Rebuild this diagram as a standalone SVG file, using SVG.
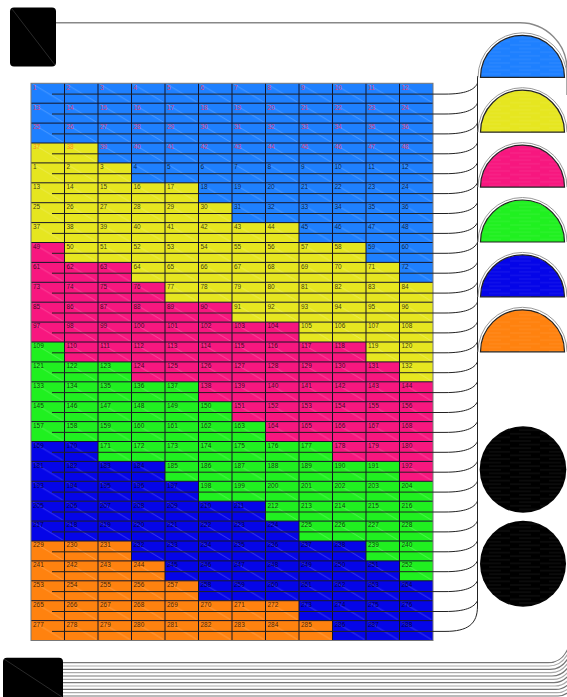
<svg xmlns="http://www.w3.org/2000/svg" width="567" height="697" viewBox="0 0 567 697">
<style>
.t{font-family:"Liberation Sans",Arial,sans-serif;font-size:6.5px;fill:#000;fill-opacity:.75}
.h{fill:#d8407f;fill-opacity:1}
.o{fill:#ff8a1a;fill-opacity:1}
.B{fill:#1e80ff}.Y{fill:#e6e620}.P{fill:#f7177f}.G{fill:#20f020}.D{fill:#0505e8}.O{fill:#ff820f}
.grid{stroke:#141428;stroke-width:1;fill:none}
.con path{stroke:#222;stroke-width:1;fill:none}
.ring{stroke:#999;stroke-width:1;fill:none}
.hd{stroke:#222;stroke-width:1.2}
.bl{fill:none;stroke-width:1.2}
</style>
<defs>
<pattern id="diag" patternUnits="userSpaceOnUse" x="31" y="83.3" width="33.5" height="19.9"><path d="M2,1 L32,19" stroke="#fff" stroke-opacity=".35" stroke-width=".6"/></pattern>
<pattern id="stripe" patternUnits="userSpaceOnUse" width="30" height="7.2"><path d="M0,1.8 H21 M9,5.4 H30" stroke="#fff" stroke-opacity=".14" stroke-width=".6"/></pattern>
<pattern id="gstripe" patternUnits="userSpaceOnUse" width="30" height="7.2"><path d="M0,1.8 H21 M9,5.4 H30" stroke="#999" stroke-opacity=".22" stroke-width=".6"/></pattern>
</defs>
<rect width="567" height="697" fill="#fff"/>

<g id="link-lines">
<path d="M56,22.7 H520 A47,47 0 0 1 567,69.7 V95" fill="none" stroke="#888" stroke-width="1.4"/>
<g class="bl">
<path d="M63,662.7 H548 C557,662.7 564,659 569,646" stroke="#777"/>
<path d="M63,666 H549 C558,666 565,662 570,649" stroke="#aaa"/>
<path d="M63,669.4 H550 C559,669.4 566,665 571,652" stroke="#777"/>
<path d="M63,672.7 H551 C560,672.7 567,668 572,655" stroke="#aaa"/>
<path d="M63,676 H552 C561,676 568,671 573,658" stroke="#777"/>
<path d="M63,679.4 H553 C562,679.4 569,674 574,661" stroke="#aaa"/>
<path d="M63,682.7 H554 C563,682.7 570,677 575,664" stroke="#777"/>
<path d="M63,686 H555 C564,686 571,680 576,667" stroke="#aaa"/>
<path d="M63,689.4 H556 C565,689.4 572,683 577,670" stroke="#777"/>
<path d="M63,692.7 H557 C566,692.7 573,686 578,673" stroke="#aaa"/>
<path d="M63,696 H558 C567,696 574,689 579,676" stroke="#777"/>
</g>
</g>

<g id="grid">
<g id="cells">
<rect class="B" x="31" y="83.3" width="402" height="60"/>
<rect class="Y" x="31" y="143" width="67" height="20"/><rect class="B" x="98" y="143" width="335" height="20"/>
<rect class="Y" x="31" y="162.9" width="100.5" height="20"/><rect class="B" x="131.5" y="162.9" width="301.5" height="20"/>
<rect class="Y" x="31" y="182.8" width="167.5" height="20"/><rect class="B" x="198.5" y="182.8" width="234.5" height="20"/>
<rect class="Y" x="31" y="202.7" width="201" height="20"/><rect class="B" x="232" y="202.7" width="201" height="20"/>
<rect class="Y" x="31" y="222.6" width="268" height="20"/><rect class="B" x="299" y="222.6" width="134" height="20"/>
<rect class="P" x="31" y="242.5" width="33.5" height="20"/><rect class="Y" x="64.5" y="242.5" width="301.5" height="20"/><rect class="B" x="366" y="242.5" width="67" height="20"/>
<rect class="P" x="31" y="262.4" width="100.5" height="20"/><rect class="Y" x="131.5" y="262.4" width="268" height="20"/><rect class="B" x="399.5" y="262.4" width="33.5" height="20"/>
<rect class="P" x="31" y="282.3" width="134" height="20"/><rect class="Y" x="165" y="282.3" width="268" height="20"/>
<rect class="P" x="31" y="302.2" width="201" height="20"/><rect class="Y" x="232" y="302.2" width="201" height="20"/>
<rect class="P" x="31" y="322.1" width="268" height="20"/><rect class="Y" x="299" y="322.1" width="134" height="20"/>
<rect class="G" x="31" y="342" width="33.5" height="20"/><rect class="P" x="64.5" y="342" width="301.5" height="20"/><rect class="Y" x="366" y="342" width="67" height="20"/>
<rect class="G" x="31" y="361.9" width="100.5" height="20"/><rect class="P" x="131.5" y="361.9" width="268" height="20"/><rect class="Y" x="399.5" y="361.9" width="33.5" height="20"/>
<rect class="G" x="31" y="381.8" width="167.5" height="20"/><rect class="P" x="198.5" y="381.8" width="234.5" height="20"/>
<rect class="G" x="31" y="401.7" width="201" height="20"/><rect class="P" x="232" y="401.7" width="201" height="20"/>
<rect class="G" x="31" y="421.6" width="234.5" height="20"/><rect class="P" x="265.5" y="421.6" width="167.5" height="20"/>
<rect class="D" x="31" y="441.5" width="67" height="20"/><rect class="G" x="98" y="441.5" width="234.5" height="20"/><rect class="P" x="332.5" y="441.5" width="100.5" height="20"/>
<rect class="D" x="31" y="461.4" width="134" height="20"/><rect class="G" x="165" y="461.4" width="234.5" height="20"/><rect class="P" x="399.5" y="461.4" width="33.5" height="20"/>
<rect class="D" x="31" y="481.3" width="167.5" height="20"/><rect class="G" x="198.5" y="481.3" width="234.5" height="20"/>
<rect class="D" x="31" y="501.2" width="234.5" height="20"/><rect class="G" x="265.5" y="501.2" width="167.5" height="20"/>
<rect class="D" x="31" y="521.1" width="268" height="20"/><rect class="G" x="299" y="521.1" width="134" height="20"/>
<rect class="O" x="31" y="541" width="100.5" height="20"/><rect class="D" x="131.5" y="541" width="234.5" height="20"/><rect class="G" x="366" y="541" width="67" height="20"/>
<rect class="O" x="31" y="560.9" width="134" height="20"/><rect class="D" x="165" y="560.9" width="234.5" height="20"/><rect class="G" x="399.5" y="560.9" width="33.5" height="20"/>
<rect class="O" x="31" y="580.8" width="167.5" height="20"/><rect class="D" x="198.5" y="580.8" width="234.5" height="20"/>
<rect class="O" x="31" y="600.7" width="268" height="20"/><rect class="D" x="299" y="600.7" width="134" height="20"/>
<rect class="O" x="31" y="620.6" width="301.5" height="19.9"/><rect class="D" x="332.5" y="620.6" width="100.5" height="19.9"/>
<rect x="31" y="83.3" width="402" height="557.2" fill="url(#diag)"/>
</g>
<path class="grid" d="M64.5,83.3V640.5M98,83.3V640.5M131.5,83.3V640.5M165,83.3V640.5M198.5,83.3V640.5M232,83.3V640.5M265.5,83.3V640.5M299,83.3V640.5M332.5,83.3V640.5M366,83.3V640.5M399.5,83.3V640.5
M31,103.2H433M31,123.1H433M31,143H433M31,162.9H433M31,182.8H433M31,202.7H433M31,222.6H433M31,242.5H433M31,262.4H433M31,282.3H433M31,302.2H433M31,322.1H433M31,342H433M31,361.9H433M31,381.8H433M31,401.7H433M31,421.6H433M31,441.5H433M31,461.4H433M31,481.3H433M31,501.2H433M31,521.1H433M31,541H433M31,560.9H433M31,580.8H433M31,600.7H433M31,620.6H433"/>
<rect x="31" y="83.3" width="402" height="557.2" fill="none" stroke="#777" stroke-width="1"/>
<g id="labels">
<text class="t h" y="89.6"><tspan x="33">1</tspan><tspan x="66.5">2</tspan><tspan x="100">3</tspan><tspan x="133.5">4</tspan><tspan x="167">5</tspan><tspan x="200.5">6</tspan><tspan x="234">7</tspan><tspan x="267.5">8</tspan><tspan x="301">9</tspan><tspan x="334.5">10</tspan><tspan x="368">11</tspan><tspan x="401.5">12</tspan></text>
<text class="t h" y="109.5"><tspan x="33">13</tspan><tspan x="66.5">14</tspan><tspan x="100">15</tspan><tspan x="133.5">16</tspan><tspan x="167">17</tspan><tspan x="200.5">18</tspan><tspan x="234">19</tspan><tspan x="267.5">20</tspan><tspan x="301">21</tspan><tspan x="334.5">22</tspan><tspan x="368">23</tspan><tspan x="401.5">24</tspan></text>
<text class="t h" y="129.4"><tspan x="33">25</tspan><tspan x="66.5">26</tspan><tspan x="100">27</tspan><tspan x="133.5">28</tspan><tspan x="167">29</tspan><tspan x="200.5">30</tspan><tspan x="234">31</tspan><tspan x="267.5">32</tspan><tspan x="301">33</tspan><tspan x="334.5">34</tspan><tspan x="368">35</tspan><tspan x="401.5">36</tspan></text>
<text class="t h" y="149.3"><tspan x="33" class="o">37</tspan><tspan x="66.5" class="o">38</tspan><tspan x="100">39</tspan><tspan x="133.5">40</tspan><tspan x="167">41</tspan><tspan x="200.5">42</tspan><tspan x="234">43</tspan><tspan x="267.5">44</tspan><tspan x="301">45</tspan><tspan x="334.5">46</tspan><tspan x="368">47</tspan><tspan x="401.5">48</tspan></text>
<text class="t" y="169.2"><tspan x="33">1</tspan><tspan x="66.5">2</tspan><tspan x="100">3</tspan><tspan x="133.5">4</tspan><tspan x="167">5</tspan><tspan x="200.5">6</tspan><tspan x="234">7</tspan><tspan x="267.5">8</tspan><tspan x="301">9</tspan><tspan x="334.5">10</tspan><tspan x="368">11</tspan><tspan x="401.5">12</tspan></text>
<text class="t" y="189.1"><tspan x="33">13</tspan><tspan x="66.5">14</tspan><tspan x="100">15</tspan><tspan x="133.5">16</tspan><tspan x="167">17</tspan><tspan x="200.5">18</tspan><tspan x="234">19</tspan><tspan x="267.5">20</tspan><tspan x="301">21</tspan><tspan x="334.5">22</tspan><tspan x="368">23</tspan><tspan x="401.5">24</tspan></text>
<text class="t" y="209"><tspan x="33">25</tspan><tspan x="66.5">26</tspan><tspan x="100">27</tspan><tspan x="133.5">28</tspan><tspan x="167">29</tspan><tspan x="200.5">30</tspan><tspan x="234">31</tspan><tspan x="267.5">32</tspan><tspan x="301">33</tspan><tspan x="334.5">34</tspan><tspan x="368">35</tspan><tspan x="401.5">36</tspan></text>
<text class="t" y="228.9"><tspan x="33">37</tspan><tspan x="66.5">38</tspan><tspan x="100">39</tspan><tspan x="133.5">40</tspan><tspan x="167">41</tspan><tspan x="200.5">42</tspan><tspan x="234">43</tspan><tspan x="267.5">44</tspan><tspan x="301">45</tspan><tspan x="334.5">46</tspan><tspan x="368">47</tspan><tspan x="401.5">48</tspan></text>
<text class="t" y="248.8"><tspan x="33">49</tspan><tspan x="66.5">50</tspan><tspan x="100">51</tspan><tspan x="133.5">52</tspan><tspan x="167">53</tspan><tspan x="200.5">54</tspan><tspan x="234">55</tspan><tspan x="267.5">56</tspan><tspan x="301">57</tspan><tspan x="334.5">58</tspan><tspan x="368">59</tspan><tspan x="401.5">60</tspan></text>
<text class="t" y="268.7"><tspan x="33">61</tspan><tspan x="66.5">62</tspan><tspan x="100">63</tspan><tspan x="133.5">64</tspan><tspan x="167">65</tspan><tspan x="200.5">66</tspan><tspan x="234">67</tspan><tspan x="267.5">68</tspan><tspan x="301">69</tspan><tspan x="334.5">70</tspan><tspan x="368">71</tspan><tspan x="401.5">72</tspan></text>
<text class="t" y="288.6"><tspan x="33">73</tspan><tspan x="66.5">74</tspan><tspan x="100">75</tspan><tspan x="133.5">76</tspan><tspan x="167">77</tspan><tspan x="200.5">78</tspan><tspan x="234">79</tspan><tspan x="267.5">80</tspan><tspan x="301">81</tspan><tspan x="334.5">82</tspan><tspan x="368">83</tspan><tspan x="401.5">84</tspan></text>
<text class="t" y="308.5"><tspan x="33">85</tspan><tspan x="66.5">86</tspan><tspan x="100">87</tspan><tspan x="133.5">88</tspan><tspan x="167">89</tspan><tspan x="200.5">90</tspan><tspan x="234">91</tspan><tspan x="267.5">92</tspan><tspan x="301">93</tspan><tspan x="334.5">94</tspan><tspan x="368">95</tspan><tspan x="401.5">96</tspan></text>
<text class="t" y="328.4"><tspan x="33">97</tspan><tspan x="66.5">98</tspan><tspan x="100">99</tspan><tspan x="133.5">100</tspan><tspan x="167">101</tspan><tspan x="200.5">102</tspan><tspan x="234">103</tspan><tspan x="267.5">104</tspan><tspan x="301">105</tspan><tspan x="334.5">106</tspan><tspan x="368">107</tspan><tspan x="401.5">108</tspan></text>
<text class="t" y="348.3"><tspan x="33">109</tspan><tspan x="66.5">110</tspan><tspan x="100">111</tspan><tspan x="133.5">112</tspan><tspan x="167">113</tspan><tspan x="200.5">114</tspan><tspan x="234">115</tspan><tspan x="267.5">116</tspan><tspan x="301">117</tspan><tspan x="334.5">118</tspan><tspan x="368">119</tspan><tspan x="401.5">120</tspan></text>
<text class="t" y="368.2"><tspan x="33">121</tspan><tspan x="66.5">122</tspan><tspan x="100">123</tspan><tspan x="133.5">124</tspan><tspan x="167">125</tspan><tspan x="200.5">126</tspan><tspan x="234">127</tspan><tspan x="267.5">128</tspan><tspan x="301">129</tspan><tspan x="334.5">130</tspan><tspan x="368">131</tspan><tspan x="401.5">132</tspan></text>
<text class="t" y="388.1"><tspan x="33">133</tspan><tspan x="66.5">134</tspan><tspan x="100">135</tspan><tspan x="133.5">136</tspan><tspan x="167">137</tspan><tspan x="200.5">138</tspan><tspan x="234">139</tspan><tspan x="267.5">140</tspan><tspan x="301">141</tspan><tspan x="334.5">142</tspan><tspan x="368">143</tspan><tspan x="401.5">144</tspan></text>
<text class="t" y="408"><tspan x="33">145</tspan><tspan x="66.5">146</tspan><tspan x="100">147</tspan><tspan x="133.5">148</tspan><tspan x="167">149</tspan><tspan x="200.5">150</tspan><tspan x="234">151</tspan><tspan x="267.5">152</tspan><tspan x="301">153</tspan><tspan x="334.5">154</tspan><tspan x="368">155</tspan><tspan x="401.5">156</tspan></text>
<text class="t" y="427.9"><tspan x="33">157</tspan><tspan x="66.5">158</tspan><tspan x="100">159</tspan><tspan x="133.5">160</tspan><tspan x="167">161</tspan><tspan x="200.5">162</tspan><tspan x="234">163</tspan><tspan x="267.5">164</tspan><tspan x="301">165</tspan><tspan x="334.5">166</tspan><tspan x="368">167</tspan><tspan x="401.5">168</tspan></text>
<text class="t" y="447.8"><tspan x="33">169</tspan><tspan x="66.5">170</tspan><tspan x="100">171</tspan><tspan x="133.5">172</tspan><tspan x="167">173</tspan><tspan x="200.5">174</tspan><tspan x="234">175</tspan><tspan x="267.5">176</tspan><tspan x="301">177</tspan><tspan x="334.5">178</tspan><tspan x="368">179</tspan><tspan x="401.5">180</tspan></text>
<text class="t" y="467.7"><tspan x="33">181</tspan><tspan x="66.5">182</tspan><tspan x="100">183</tspan><tspan x="133.5">184</tspan><tspan x="167">185</tspan><tspan x="200.5">186</tspan><tspan x="234">187</tspan><tspan x="267.5">188</tspan><tspan x="301">189</tspan><tspan x="334.5">190</tspan><tspan x="368">191</tspan><tspan x="401.5">192</tspan></text>
<text class="t" y="487.6"><tspan x="33">193</tspan><tspan x="66.5">194</tspan><tspan x="100">195</tspan><tspan x="133.5">196</tspan><tspan x="167">197</tspan><tspan x="200.5">198</tspan><tspan x="234">199</tspan><tspan x="267.5">200</tspan><tspan x="301">201</tspan><tspan x="334.5">202</tspan><tspan x="368">203</tspan><tspan x="401.5">204</tspan></text>
<text class="t" y="507.5"><tspan x="33">205</tspan><tspan x="66.5">206</tspan><tspan x="100">207</tspan><tspan x="133.5">208</tspan><tspan x="167">209</tspan><tspan x="200.5">210</tspan><tspan x="234">211</tspan><tspan x="267.5">212</tspan><tspan x="301">213</tspan><tspan x="334.5">214</tspan><tspan x="368">215</tspan><tspan x="401.5">216</tspan></text>
<text class="t" y="527.4"><tspan x="33">217</tspan><tspan x="66.5">218</tspan><tspan x="100">219</tspan><tspan x="133.5">220</tspan><tspan x="167">221</tspan><tspan x="200.5">222</tspan><tspan x="234">223</tspan><tspan x="267.5">224</tspan><tspan x="301">225</tspan><tspan x="334.5">226</tspan><tspan x="368">227</tspan><tspan x="401.5">228</tspan></text>
<text class="t" y="547.3"><tspan x="33">229</tspan><tspan x="66.5">230</tspan><tspan x="100">231</tspan><tspan x="133.5">232</tspan><tspan x="167">233</tspan><tspan x="200.5">234</tspan><tspan x="234">235</tspan><tspan x="267.5">236</tspan><tspan x="301">237</tspan><tspan x="334.5">238</tspan><tspan x="368">239</tspan><tspan x="401.5">240</tspan></text>
<text class="t" y="567.2"><tspan x="33">241</tspan><tspan x="66.5">242</tspan><tspan x="100">243</tspan><tspan x="133.5">244</tspan><tspan x="167">245</tspan><tspan x="200.5">246</tspan><tspan x="234">247</tspan><tspan x="267.5">248</tspan><tspan x="301">249</tspan><tspan x="334.5">250</tspan><tspan x="368">251</tspan><tspan x="401.5">252</tspan></text>
<text class="t" y="587.1"><tspan x="33">253</tspan><tspan x="66.5">254</tspan><tspan x="100">255</tspan><tspan x="133.5">256</tspan><tspan x="167">257</tspan><tspan x="200.5">258</tspan><tspan x="234">259</tspan><tspan x="267.5">260</tspan><tspan x="301">261</tspan><tspan x="334.5">262</tspan><tspan x="368">263</tspan><tspan x="401.5">264</tspan></text>
<text class="t" y="607"><tspan x="33">265</tspan><tspan x="66.5">266</tspan><tspan x="100">267</tspan><tspan x="133.5">268</tspan><tspan x="167">269</tspan><tspan x="200.5">270</tspan><tspan x="234">271</tspan><tspan x="267.5">272</tspan><tspan x="301">273</tspan><tspan x="334.5">274</tspan><tspan x="368">275</tspan><tspan x="401.5">276</tspan></text>
<text class="t" y="626.9"><tspan x="33">277</tspan><tspan x="66.5">278</tspan><tspan x="100">279</tspan><tspan x="133.5">280</tspan><tspan x="167">281</tspan><tspan x="200.5">282</tspan><tspan x="234">283</tspan><tspan x="267.5">284</tspan><tspan x="301">285</tspan><tspan x="334.5">286</tspan><tspan x="368">287</tspan><tspan x="401.5">288</tspan></text>
</g>
</g>

<g id="connectors" class="con">
<path d="M477.5,76 V606"/>
<path d="M52,94.1 H445 C465,94.1 474.5,90.1 477.5,83.1"/>
<path d="M52,114 H445 C465,114 474.5,110 477.5,103"/>
<path d="M52,133.9 H445 C465,133.9 474.5,129.9 477.5,122.9"/>
<path d="M52,153.8 H445 C465,153.8 474.5,149.8 477.5,142.8"/>
<path d="M52,173.7 H445 C465,173.7 474.5,169.7 477.5,162.7"/>
<path d="M52,193.6 H445 C465,193.6 474.5,189.6 477.5,182.6"/>
<path d="M52,213.5 H445 C465,213.5 474.5,209.5 477.5,202.5"/>
<path d="M52,233.4 H445 C465,233.4 474.5,229.4 477.5,222.4"/>
<path d="M52,253.3 H445 C465,253.3 474.5,249.3 477.5,242.3"/>
<path d="M52,273.2 H445 C465,273.2 474.5,269.2 477.5,262.2"/>
<path d="M52,293.1 H445 C465,293.1 474.5,289.1 477.5,282.1"/>
<path d="M52,313 H445 C465,313 474.5,309 477.5,302"/>
<path d="M52,332.9 H445 C465,332.9 474.5,328.9 477.5,321.9"/>
<path d="M52,352.8 H445 C465,352.8 474.5,348.8 477.5,341.8"/>
<path d="M52,372.7 H445 C465,372.7 474.5,368.7 477.5,361.7"/>
<path d="M52,392.6 H445 C465,392.6 474.5,388.6 477.5,381.6"/>
<path d="M52,412.5 H445 C465,412.5 474.5,408.5 477.5,401.5"/>
<path d="M52,432.4 H445 C465,432.4 474.5,428.4 477.5,421.4"/>
<path d="M52,452.3 H445 C465,452.3 474.5,448.3 477.5,441.3"/>
<path d="M52,472.2 H445 C465,472.2 474.5,468.2 477.5,461.2"/>
<path d="M52,492.1 H445 C465,492.1 474.5,488.1 477.5,481.1"/>
<path d="M52,512 H445 C465,512 474.5,508 477.5,501"/>
<path d="M52,531.9 H445 C465,531.9 474.5,527.9 477.5,520.9"/>
<path d="M52,551.8 H445 C465,551.8 474.5,547.8 477.5,540.8"/>
<path d="M52,571.7 H445 C465,571.7 474.5,567.7 477.5,560.7"/>
<path d="M52,591.6 H445 C465,591.6 474.5,587.6 477.5,580.6"/>
<path d="M52,611.5 H445 C465,611.5 474.5,607.5 477.5,600.5"/>
<path d="M52,631.4 H445 C468,631.4 477.5,624 477.5,606"/>
</g>

<g id="box-top">
<rect x="10" y="7.5" width="46" height="59" rx="4" fill="#000"/>
<path d="M12,9 L55,65" stroke="#444" stroke-width=".6"/>
</g>
<g id="box-bottom">
<rect x="3" y="657.7" width="60" height="45" rx="4" fill="#000"/>
<path d="M4,659 L62,697" stroke="#444" stroke-width=".6"/>
</g>

<g id="half-blue"><path d="M478,77.3 A44.5,44.5 0 0 1 567,77.3" class="ring"/><path class="hd" d="M480.5,77.3 A42,42 0 0 1 564.5,77.3 Z" fill="#1e80ff"/><path d="M480.5,77.3 A42,42 0 0 1 564.5,77.3 Z" fill="url(#stripe)"/></g>
<g id="half-yellow"><path d="M478,132.2 A44.5,44.5 0 0 1 567,132.2" class="ring"/><path class="hd" d="M480.5,132.2 A42,42 0 0 1 564.5,132.2 Z" fill="#e6e620"/><path d="M480.5,132.2 A42,42 0 0 1 564.5,132.2 Z" fill="url(#stripe)"/></g>
<g id="half-pink"><path d="M478,187.1 A44.5,44.5 0 0 1 567,187.1" class="ring"/><path class="hd" d="M480.5,187.1 A42,42 0 0 1 564.5,187.1 Z" fill="#f7177f"/><path d="M480.5,187.1 A42,42 0 0 1 564.5,187.1 Z" fill="url(#stripe)"/></g>
<g id="half-green"><path d="M478,242 A44.5,44.5 0 0 1 567,242" class="ring"/><path class="hd" d="M480.5,242 A42,42 0 0 1 564.5,242 Z" fill="#20f020"/><path d="M480.5,242 A42,42 0 0 1 564.5,242 Z" fill="url(#stripe)"/></g>
<g id="half-darkblue"><path d="M478,296.9 A44.5,44.5 0 0 1 567,296.9" class="ring"/><path class="hd" d="M480.5,296.9 A42,42 0 0 1 564.5,296.9 Z" fill="#0505e8"/><path d="M480.5,296.9 A42,42 0 0 1 564.5,296.9 Z" fill="url(#stripe)"/></g>
<g id="half-orange"><path d="M478,351.8 A44.5,44.5 0 0 1 567,351.8" class="ring"/><path class="hd" d="M480.5,351.8 A42,42 0 0 1 564.5,351.8 Z" fill="#ff820f"/><path d="M480.5,351.8 A42,42 0 0 1 564.5,351.8 Z" fill="url(#stripe)"/></g>

<g id="circle-1"><circle cx="523" cy="469.5" r="43.3" fill="#000"/><circle cx="523" cy="469.5" r="43.3" fill="url(#gstripe)"/></g>
<g id="circle-2"><circle cx="523" cy="563.8" r="43" fill="#000"/><circle cx="523" cy="563.8" r="43" fill="url(#gstripe)"/></g>
</svg>
